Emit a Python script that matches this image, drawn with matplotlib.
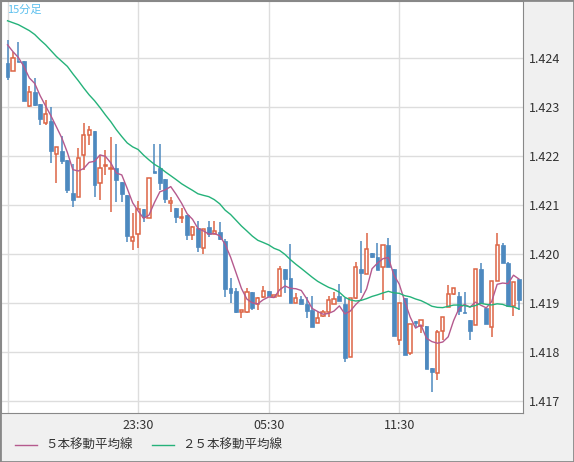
import matplotlib
matplotlib.use("Agg")
import matplotlib.pyplot as plt
import numpy as np
import pandas as pd

plt.rcParams['font.family'] = ['Noto Sans CJK JP', 'DejaVu Sans']

opens = [1.42388,1.42373,1.42393,1.42392,1.42302,1.42330,1.42306,1.42267,1.42271,1.42204,
         1.42210,1.42192,1.42124,1.42116,1.42202,1.42243,1.42251,1.42145,1.42179,1.42173,
         1.42175,1.42147,1.42120,1.42026,1.42041,1.42092,1.42073,1.42169,1.42175,1.42153,
         1.42104,1.42094,1.42073,1.42079,1.42039,1.42053,1.42012,1.42055,1.42041,1.42045,
         1.42026,1.41931,1.41924,1.41882,1.41882,1.41922,1.41898,1.41912,1.41924,1.41912,
         1.41914,1.41969,1.41951,1.41900,1.41908,1.41898,1.41886,1.41859,1.41873,1.41882,
         1.41898,1.41914,1.41898,1.41790,1.41910,1.41969,1.41959,1.42002,1.41994,1.41973,
         1.42018,1.41969,1.41824,1.41910,1.41798,1.41863,1.41853,1.41853,1.41767,1.41757,
         1.41843,1.41892,1.41918,1.41914,1.41882,1.41865,1.41855,1.41969,1.41890,1.41851,
         1.41945,1.42018,1.41982,1.41894,1.41949]
highs = [1.42436,1.42412,1.42432,1.42392,1.42343,1.42359,1.42306,1.42314,1.42300,1.42218,
         1.42241,1.42192,1.42183,1.42216,1.42267,1.42261,1.42251,1.42202,1.42212,1.42239,
         1.42224,1.42147,1.42120,1.42084,1.42108,1.42092,1.42155,1.42224,1.42224,1.42153,
         1.42116,1.42094,1.42094,1.42079,1.42057,1.42067,1.42051,1.42067,1.42067,1.42065,
         1.42030,1.41951,1.41931,1.41886,1.41931,1.41922,1.41912,1.41935,1.41924,1.41916,
         1.41975,1.41969,1.42020,1.41920,1.41914,1.41912,1.41914,1.41882,1.41886,1.41914,
         1.41922,1.41939,1.41910,1.41910,1.41984,1.42026,1.42043,1.42002,1.42022,1.42018,
         1.42033,1.41969,1.41900,1.41910,1.41857,1.41863,1.41865,1.41853,1.41767,1.41845,
         1.41871,1.41937,1.41931,1.41922,1.41922,1.41865,1.41969,1.41982,1.41890,1.41945,
         1.42043,1.42022,1.41984,1.41943,1.41949]
lows = [1.42355,1.42373,1.42390,1.42312,1.42300,1.42302,1.42263,1.42263,1.42186,1.42145,
        1.42183,1.42124,1.42096,1.42116,1.42171,1.42222,1.42116,1.42110,1.42161,1.42086,
        1.42106,1.42106,1.42024,1.42008,1.42012,1.42065,1.42073,1.42165,1.42130,1.42104,
        1.42086,1.42063,1.42063,1.42028,1.42028,1.42004,1.42000,1.42035,1.42041,1.42028,
        1.41912,1.41900,1.41880,1.41869,1.41880,1.41886,1.41886,1.41910,1.41914,1.41912,
        1.41914,1.41920,1.41900,1.41900,1.41898,1.41869,1.41851,1.41859,1.41871,1.41871,
        1.41898,1.41904,1.41780,1.41790,1.41908,1.41920,1.41959,1.41992,1.41967,1.41906,
        1.41973,1.41833,1.41814,1.41794,1.41794,1.41851,1.41839,1.41765,1.41718,1.41743,
        1.41824,1.41892,1.41916,1.41875,1.41880,1.41824,1.41855,1.41900,1.41857,1.41831,
        1.41945,1.41982,1.41894,1.41873,1.41886]
closes = [1.42361,1.42400,1.42390,1.42312,1.42330,1.42304,1.42275,1.42285,1.42210,1.42218,
          1.42190,1.42130,1.42110,1.42196,1.42243,1.42253,1.42141,1.42175,1.42181,1.42175,
          1.42151,1.42122,1.42037,1.42035,1.42092,1.42075,1.42155,1.42165,1.42145,1.42112,
          1.42108,1.42075,1.42075,1.42039,1.42055,1.42014,1.42051,1.42041,1.42047,1.42030,
          1.41928,1.41920,1.41882,1.41886,1.41922,1.41890,1.41910,1.41924,1.41914,1.41916,
          1.41969,1.41949,1.41900,1.41910,1.41898,1.41884,1.41851,1.41869,1.41882,1.41906,
          1.41908,1.41904,1.41788,1.41910,1.41973,1.41961,1.42010,1.41994,1.41967,1.42018,
          1.41973,1.41833,1.41900,1.41794,1.41857,1.41859,1.41865,1.41765,1.41759,1.41841,
          1.41871,1.41918,1.41931,1.41884,1.41880,1.41843,1.41969,1.41900,1.41857,1.41945,
          1.42018,1.41982,1.41894,1.41943,1.41906]
# moving-average values before enough candles are on screen
ma5_head = [1.42426, 1.42412, 1.42400, 1.42382]
ma25_head = [1.42475,1.42471,1.42467,1.42461,1.42455,1.42447,1.42436,1.42426,1.42414,1.42402,
             1.42392,1.42382,1.42367,1.42353,1.42338,1.42324,1.42312,1.42298,1.42283,1.42269,
             1.42253,1.42239,1.42226,1.42218]
tick_pos = [24, 48, 72]
tick_labels = ["23:30", "05:30", "11:30"]
y_ticks = [1.417, 1.418, 1.419, 1.420, 1.421, 1.422, 1.423, 1.424]

c = pd.Series(closes)
ma5 = c.rolling(5).mean().to_numpy()
ma5[:4] = ma5_head
ma25 = c.rolling(25).mean().to_numpy()
ma25[:24] = ma25_head

BLUE = '#4d89bf'
RED = '#dd6545'

fig = plt.figure(figsize=(5.74, 4.62), dpi=100, facecolor='#f0f0f0')
ax = fig.add_axes([1/574, 49/462, 522/574, 412/462])
ax.set_facecolor('white')
x = np.arange(len(closes))
for i in x:
    o, h, l, cl = opens[i], highs[i], lows[i], closes[i]
    up = cl >= o
    col = RED if up else BLUE
    ax.vlines(i, l, h, color=col, lw=1.1, zorder=3)
    lo, hi = min(o, cl), max(o, cl)
    hgt = max(hi - lo, 0.000015)
    if up:
        ax.bar(i, hgt, bottom=lo, width=0.6, facecolor='white', edgecolor=col, lw=1.1, zorder=4)
    else:
        ax.bar(i, hgt, bottom=lo, width=0.7, facecolor=col, edgecolor=col, lw=0.5, zorder=4)
ax.plot(x, ma5, color='#b55a8e', lw=1.0, zorder=5)
ax.plot(x, ma25, color='#25b27a', lw=1.0, zorder=5)

ax.set_xlim(-1.2, 94.75)
ax.set_ylim(1.416755, 1.425153)
ax.set_xticks([0] + tick_pos)
ax.set_xticklabels([""] + tick_labels)
ax.set_yticks(y_ticks)
ax.set_yticklabels([f"{v:.3f}" for v in y_ticks])
ax.yaxis.tick_right()
ax.tick_params(length=0, labelsize=9, colors='#333333', pad=4)
ax.grid(True, color='#dddddd', lw=1)
ax.set_axisbelow(True)
for s in ax.spines.values():
    s.set_color('#888888')
ax.text(0.012, 0.992, "15分足", transform=ax.transAxes, ha='left', va='top',
        color='#5cc0ee', fontsize=8)

fig.add_artist(plt.Line2D([15/574, 37/574], [17/462, 17/462], color='#b55a8e', lw=1))
fig.text(45/574, 17/462, "５本移動平均線", va='center', fontsize=9, color='#333333')
fig.add_artist(plt.Line2D([152/574, 174/574], [17/462, 17/462], color='#25b27a', lw=1))
fig.text(182/574, 17/462, "２５本移動平均線", va='center', fontsize=9, color='#333333')
fig.add_artist(plt.Rectangle((0, 0), 1, 1, transform=fig.transFigure, fill=False,
                             edgecolor='#888888', lw=2))
fig.savefig("out.png", dpi=100, facecolor=fig.get_facecolor())
